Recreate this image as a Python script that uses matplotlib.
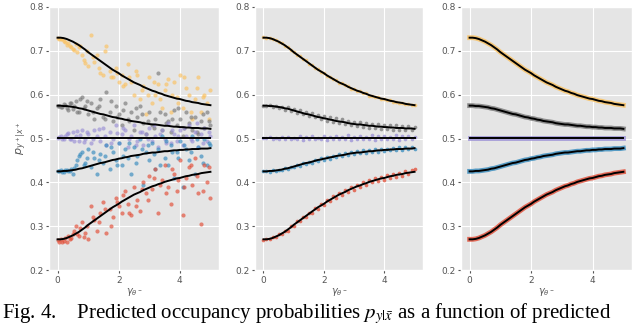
import numpy as np
import matplotlib
matplotlib.use("Agg")
import matplotlib.pyplot as plt

plt.style.use("ggplot")

# ---- model curves (x step 0.1 from 0 to 5) ----
curve_x = np.round(np.arange(0, 5.01, 0.1), 2)
yellow_curve = [0.730, 0.730, 0.729, 0.727, 0.724, 0.721, 0.717, 0.713, 0.708, 0.703,
                0.697, 0.692, 0.687, 0.682, 0.677, 0.672, 0.667, 0.662, 0.657, 0.653,
                0.649, 0.644, 0.640, 0.636, 0.632, 0.628, 0.625, 0.622, 0.618, 0.615,
                0.612, 0.609, 0.607, 0.604, 0.602, 0.599, 0.597, 0.595, 0.593, 0.591,
                0.590, 0.588, 0.586, 0.585, 0.583, 0.582, 0.581, 0.579, 0.578, 0.577, 0.576]
gray_curve = [0.575, 0.575, 0.574, 0.574, 0.573, 0.572, 0.571, 0.569, 0.568, 0.566,
              0.564, 0.562, 0.560, 0.558, 0.556, 0.555, 0.553, 0.551, 0.549, 0.548,
              0.546, 0.545, 0.543, 0.542, 0.540, 0.539, 0.538, 0.537, 0.535, 0.534,
              0.533, 0.532, 0.532, 0.531, 0.530, 0.529, 0.529, 0.528, 0.527, 0.527,
              0.526, 0.526, 0.525, 0.525, 0.524, 0.524, 0.524, 0.523, 0.523, 0.523, 0.522]
purple_curve = [0.502] * 51
blue_curve = [0.425, 0.425, 0.426, 0.426, 0.427, 0.428, 0.429, 0.431, 0.432, 0.434,
              0.436, 0.438, 0.440, 0.442, 0.444, 0.445, 0.447, 0.449, 0.451, 0.452,
              0.454, 0.455, 0.457, 0.458, 0.460, 0.461, 0.462, 0.463, 0.465, 0.466,
              0.467, 0.468, 0.468, 0.469, 0.470, 0.471, 0.471, 0.472, 0.473, 0.473,
              0.474, 0.474, 0.475, 0.475, 0.476, 0.476, 0.476, 0.477, 0.477, 0.477, 0.478]
red_curve = [0.270, 0.270, 0.271, 0.273, 0.276, 0.279, 0.283, 0.287, 0.292, 0.297,
             0.303, 0.308, 0.313, 0.318, 0.323, 0.328, 0.333, 0.338, 0.343, 0.347,
             0.351, 0.356, 0.360, 0.364, 0.368, 0.372, 0.375, 0.378, 0.382, 0.385,
             0.388, 0.391, 0.393, 0.396, 0.398, 0.401, 0.403, 0.405, 0.407, 0.409,
             0.410, 0.412, 0.414, 0.415, 0.417, 0.418, 0.419, 0.421, 0.422, 0.423, 0.424]

# ---- left panel: noisy samples ----
left_x = [0.0, 0.1, 0.2, 0.3, 0.4, 0.5, 0.6, 0.7, 0.8, 0.9, 1.0, 1.1, 1.2, 1.3, 1.4,
          1.5, 1.6, 1.7, 1.8, 1.9, 2.0, 2.1, 2.2, 2.3, 2.4, 2.5, 2.6, 2.7, 2.8, 2.9,
          3.0, 3.1, 3.2, 3.3, 3.4, 3.5, 3.6, 3.7, 3.8, 3.9, 4.0, 4.1, 4.2, 4.3, 4.4,
          4.5, 4.6, 4.7, 4.8, 4.9, 5.0]
yellow_left = [0.730, 0.727, 0.722, 0.714, 0.712, 0.705, 0.715, 0.708, 0.690, 0.672,
               0.665, 0.735, 0.675, 0.690, 0.650, 0.645, 0.710, 0.655, 0.640, 0.660,
               0.630, 0.645, 0.625, 0.670, 0.630, 0.600, 0.645, 0.590, 0.620, 0.555,
               0.640, 0.580, 0.600, 0.625, 0.570, 0.610, 0.635, 0.560, 0.630, 0.595,
               0.645, 0.570, 0.615, 0.600, 0.545, 0.590, 0.640, 0.560, 0.600, 0.580, 0.610]
gray_left = [0.575, 0.573, 0.578, 0.570, 0.582, 0.568, 0.585, 0.560, 0.595, 0.575,
             0.555, 0.580, 0.545, 0.570, 0.590, 0.550, 0.605, 0.560, 0.540, 0.575,
             0.555, 0.530, 0.580, 0.545, 0.560, 0.520, 0.550, 0.575, 0.535, 0.510,
             0.560, 0.530, 0.545, 0.650, 0.520, 0.555, 0.540, 0.515, 0.565, 0.530,
             0.545, 0.505, 0.560, 0.535, 0.520, 0.550, 0.510, 0.540, 0.525, 0.560, 0.530]
purple_left = [0.502, 0.505, 0.500, 0.510, 0.498, 0.515, 0.505, 0.495, 0.520, 0.500,
               0.510, 0.490, 0.520, 0.505, 0.495, 0.525, 0.485, 0.515, 0.500, 0.530,
               0.490, 0.510, 0.520, 0.480, 0.505, 0.530, 0.495, 0.515, 0.485, 0.510,
               0.525, 0.495, 0.505, 0.480, 0.520, 0.500, 0.535, 0.490, 0.510, 0.495,
               0.520, 0.485, 0.505, 0.530, 0.495, 0.515, 0.480, 0.510, 0.525, 0.495, 0.505]
blue_left = [0.425, 0.427, 0.424, 0.428, 0.426, 0.420, 0.440, 0.460, 0.470, 0.445,
             0.475, 0.435, 0.455, 0.420, 0.465, 0.445, 0.485, 0.430, 0.470, 0.450,
             0.490, 0.440, 0.475, 0.455, 0.420, 0.480, 0.460, 0.500, 0.395, 0.470,
             0.450, 0.490, 0.430, 0.475, 0.505, 0.455, 0.440, 0.485, 0.410, 0.470,
             0.495, 0.390, 0.475, 0.450, 0.505, 0.420, 0.480, 0.460, 0.500, 0.440, 0.485]
red_left = [0.268, 0.270, 0.267, 0.265, 0.270, 0.282, 0.300, 0.278, 0.310, 0.285,
            0.270, 0.345, 0.315, 0.290, 0.330, 0.355, 0.285, 0.340, 0.320, 0.365,
            0.345, 0.330, 0.380, 0.350, 0.325, 0.390, 0.360, 0.335, 0.400, 0.375,
            0.415, 0.385, 0.430, 0.330, 0.405, 0.440, 0.390, 0.350, 0.420, 0.380,
            0.450, 0.325, 0.410, 0.435, 0.395, 0.455, 0.375, 0.305, 0.440, 0.400, 0.365]
# second batch of left-panel samples at half-step positions
left_x2 = [0.05, 0.15, 0.25, 0.35, 0.45, 0.55, 0.65, 0.75, 0.85, 0.95, 1.15, 1.35,
           1.55, 1.75, 1.95, 2.15, 2.35, 2.55, 2.75, 2.95, 3.15, 3.35, 3.55, 3.75,
           3.95, 4.15, 4.35, 4.55, 4.75, 4.95]
yellow_left2 = [0.728, 0.726, 0.720, 0.718, 0.709, 0.702, 0.697, 0.712, 0.680, 0.700,
                0.685, 0.660, 0.700, 0.640, 0.650, 0.620, 0.640, 0.655, 0.610, 0.600,
                0.630, 0.590, 0.625, 0.600, 0.580, 0.640, 0.560, 0.615, 0.595, 0.545]
gray_left2 = [0.574, 0.571, 0.576, 0.565, 0.580, 0.575, 0.560, 0.590, 0.570, 0.585,
              0.560, 0.575, 0.545, 0.585, 0.550, 0.565, 0.540, 0.570, 0.555, 0.540,
              0.525, 0.560, 0.535, 0.545, 0.570, 0.525, 0.550, 0.515, 0.555, 0.540]
purple_left2 = [0.503, 0.499, 0.506, 0.512, 0.500, 0.495, 0.518, 0.508, 0.492, 0.515,
                0.500, 0.522, 0.505, 0.490, 0.512, 0.525, 0.498, 0.485, 0.515, 0.500,
                0.530, 0.510, 0.490, 0.520, 0.505, 0.525, 0.500, 0.535, 0.490, 0.515]
blue_left2 = [0.426, 0.423, 0.427, 0.425, 0.430, 0.432, 0.450, 0.465, 0.440, 0.455,
              0.470, 0.450, 0.460, 0.480, 0.440, 0.460, 0.490, 0.445, 0.475, 0.485,
              0.465, 0.440, 0.495, 0.470, 0.455, 0.485, 0.470, 0.500, 0.445, 0.490]
red_left2 = [0.265, 0.263, 0.272, 0.278, 0.274, 0.290, 0.283, 0.295, 0.275, 0.300,
             0.320, 0.310, 0.340, 0.300, 0.355, 0.370, 0.330, 0.345, 0.385, 0.360,
             0.410, 0.395, 0.375, 0.430, 0.405, 0.390, 0.440, 0.415, 0.380, 0.435]

# ---- middle panel: less noisy samples ----
yellow_mid = [0.731, 0.729, 0.730, 0.726, 0.725, 0.720, 0.718, 0.712, 0.709, 0.702,
              0.698, 0.691, 0.688, 0.681, 0.678, 0.671, 0.668, 0.661, 0.658, 0.652,
              0.650, 0.643, 0.641, 0.635, 0.633, 0.627, 0.626, 0.621, 0.619, 0.614,
              0.613, 0.608, 0.608, 0.603, 0.603, 0.598, 0.598, 0.594, 0.594, 0.590,
              0.591, 0.587, 0.587, 0.584, 0.584, 0.581, 0.582, 0.578, 0.579, 0.576, 0.577]
gray_mid = [0.575, 0.574, 0.576, 0.572, 0.575, 0.570, 0.573, 0.566, 0.571, 0.563,
            0.567, 0.558, 0.564, 0.555, 0.560, 0.551, 0.558, 0.548, 0.554, 0.545,
            0.551, 0.541, 0.549, 0.538, 0.546, 0.535, 0.544, 0.533, 0.541, 0.530,
            0.538, 0.528, 0.537, 0.526, 0.535, 0.525, 0.534, 0.523, 0.533, 0.522,
            0.531, 0.521, 0.530, 0.520, 0.530, 0.519, 0.529, 0.519, 0.528, 0.520, 0.527]
purple_mid = [0.502, 0.501, 0.503, 0.500, 0.502, 0.499, 0.503, 0.500, 0.504, 0.498,
              0.502, 0.500, 0.505, 0.497, 0.503, 0.499, 0.506, 0.498, 0.502, 0.500,
              0.505, 0.497, 0.504, 0.499, 0.506, 0.498, 0.503, 0.500, 0.507, 0.497,
              0.504, 0.499, 0.506, 0.498, 0.503, 0.500, 0.507, 0.497, 0.505, 0.499,
              0.506, 0.498, 0.504, 0.500, 0.507, 0.497, 0.505, 0.499, 0.506, 0.498, 0.503]
blue_mid = [0.425, 0.426, 0.424, 0.427, 0.426, 0.429, 0.427, 0.432, 0.430, 0.436,
            0.434, 0.440, 0.438, 0.444, 0.442, 0.447, 0.443, 0.451, 0.448, 0.455,
            0.451, 0.458, 0.453, 0.461, 0.457, 0.464, 0.459, 0.466, 0.462, 0.469,
            0.464, 0.471, 0.466, 0.473, 0.467, 0.474, 0.469, 0.475, 0.470, 0.477,
            0.471, 0.477, 0.473, 0.479, 0.473, 0.480, 0.474, 0.480, 0.475, 0.481, 0.476]
red_mid = [0.269, 0.271, 0.270, 0.275, 0.275, 0.281, 0.282, 0.290, 0.290, 0.300,
           0.301, 0.311, 0.311, 0.322, 0.320, 0.331, 0.330, 0.342, 0.340, 0.351,
           0.348, 0.360, 0.357, 0.368, 0.365, 0.376, 0.372, 0.382, 0.379, 0.389,
           0.382, 0.395, 0.390, 0.400, 0.394, 0.405, 0.400, 0.409, 0.403, 0.413,
           0.406, 0.416, 0.410, 0.419, 0.412, 0.422, 0.415, 0.425, 0.418, 0.428, 0.430]

names = ["yellow", "gray", "purple", "blue", "red"]
colors = {"yellow": "#FBC15E", "gray": "#777777", "purple": "#988ED5",
          "blue": "#348ABD", "red": "#E24A33"}
curves = {"yellow": yellow_curve, "gray": gray_curve, "purple": purple_curve,
          "blue": blue_curve, "red": red_curve}
left = {"yellow": yellow_left, "gray": gray_left, "purple": purple_left,
        "blue": blue_left, "red": red_left}
left2 = {"yellow": yellow_left2, "gray": gray_left2, "purple": purple_left2,
         "blue": blue_left2, "red": red_left2}
mid = {"yellow": yellow_mid, "gray": gray_mid, "purple": purple_mid,
       "blue": blue_mid, "red": red_mid}

fig = plt.figure(figsize=(6.4, 3.25), dpi=100)
fig.patch.set_facecolor("white")
W, H = 640.0, 325.0
boxes = [(49, 219), (255, 423), (461, 632)]
top, bottom = 7, 270
axes = []
for x0, x1 in boxes:
    ax = fig.add_axes([x0 / W, 1 - bottom / H, (x1 - x0) / W, (bottom - top) / H])
    axes.append(ax)

for i, ax in enumerate(axes):
    for name in names:
        c = colors[name]
        if i == 0:
            ax.scatter(left_x, left[name], s=9, color=c, alpha=0.65, lw=0, zorder=2)
            ax.scatter(left_x2, left2[name], s=9, color=c, alpha=0.65, lw=0, zorder=2)
        elif i == 1:
            ax.scatter(curve_x, mid[name], s=7, color=c, alpha=0.75, lw=0, zorder=2)
        else:
            ax.plot(curve_x, curves[name], color=c, lw=3.5, alpha=0.8, zorder=2)
    for name in names:
        ax.plot(curve_x, curves[name], color="black", lw=1.4, zorder=3)
    ax.set_ylim(0.2, 0.8)
    ax.set_xlim(-0.28, 5.28)
    ax.set_xticks([0, 2, 4])
    ax.set_yticks([0.2, 0.3, 0.4, 0.5, 0.6, 0.7, 0.8])
    ax.tick_params(labelsize=6.5, colors="#555555", length=2, pad=2)
    ax.set_xlabel(r"$\gamma_{\theta^-}$", fontsize=7, color="#555555", labelpad=1)

axes[0].set_ylabel(r"$p_{y^+|x^+}$", fontsize=8, color="#555555", labelpad=1)

fig.text(0.003, 1 - 318 / H,
         r"Fig. 4.    Predicted occupancy probabilities $p_{y|\bar{x}}$ as a function of predicted",
         family="Liberation Serif", fontsize=15, math_fontfamily="stix",
         va="baseline", ha="left")

fig.savefig("out.png", dpi=100, facecolor="white")
